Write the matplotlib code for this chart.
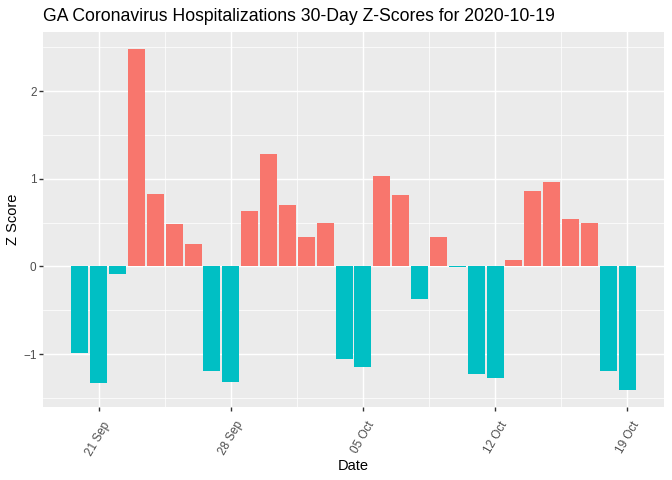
import matplotlib
matplotlib.use("Agg")
import matplotlib.pyplot as plt
import matplotlib.dates as mdates
import matplotlib.transforms as mtransforms
import numpy as np
import pandas as pd

plt.rcParams['font.family'] = ['Liberation Sans', 'DejaVu Sans']

# daily z-scores, 2020-09-20 .. 2020-10-19
dates = pd.date_range("2020-09-20", "2020-10-19", freq="D")
zscores = [-0.99, -1.33, -0.09, 2.48, 0.83, 0.48, 0.25, -1.19, -1.32, 0.63,
           1.28, 0.70, 0.33, 0.49, -1.06, -1.15, 1.03, 0.82, -0.37, 0.34,
           -0.01, -1.23, -1.27, 0.07, 0.86, 0.96, 0.54, 0.49, -1.19, -1.41]
tick_dates = pd.to_datetime(["2020-09-21", "2020-09-28", "2020-10-05",
                             "2020-10-12", "2020-10-19"])
y_ticks = [-1, 0, 1, 2]

pos_col = "#F8766D"
neg_col = "#00BFC4"

fig = plt.figure(figsize=(6.72, 4.8), dpi=100)
ax = fig.add_axes([43 / 672, 1 - 407 / 480, (664 - 43) / 672, (407 - 32) / 480])
ax.set_facecolor("#EBEBEB")

z = np.array(zscores)
cols = [pos_col if v > 0 else neg_col for v in z]
ax.bar(dates, z, width=0.9, color=cols, zorder=3)

# limits with ggplot-like 5% expansion
x0 = mdates.date2num(dates[0]) - 0.45
x1 = mdates.date2num(dates[-1]) + 0.45
pad = 0.05 * (x1 - x0)
ax.set_xlim(x0 - pad, x1 + pad)
ymin, ymax = z.min(), z.max()
ypad = 0.05 * (ymax - ymin)
ax.set_ylim(ymin - ypad, ymax + ypad)

ax.set_xticks(mdates.date2num(tick_dates))
ax.xaxis.set_major_formatter(mdates.DateFormatter("%d %b"))
minor_x = mdates.date2num(tick_dates[:-1]) + 3.5
ax.set_xticks(minor_x, minor=True)
ax.set_yticks(y_ticks)
ax.set_yticks([-1.5, -0.5, 0.5, 1.5, 2.5], minor=True)

ax.grid(which="major", color="white", linewidth=1.02, zorder=1)
ax.grid(which="minor", color="white", linewidth=0.51, zorder=1)
ax.set_axisbelow(True)

for s in ax.spines.values():
    s.set_visible(False)

ax.tick_params(which="major", length=2.6, width=1.0, color="#333333",
               labelcolor="#4D4D4D", labelsize=8.45, pad=2)
ax.tick_params(which="minor", length=0)
shift = mtransforms.ScaledTranslation(4 / 100, -6 / 100, fig.dpi_scale_trans)
for lbl in ax.get_xticklabels():
    lbl.set_rotation(60)
    lbl.set_ha("right")
    lbl.set_va("top")
    lbl.set_rotation_mode("anchor")
    lbl.set_transform(lbl.get_transform() + shift)

ax.set_xlabel("Date", fontsize=10.56, color="black", labelpad=1)
ax.set_ylabel("Z Score", fontsize=10.56, color="black", labelpad=2)
ax.set_title("GA Coronavirus Hospitalizations 30-Day Z-Scores for 2020-10-19",
             fontsize=12.67, color="black", loc="left", pad=8)

fig.savefig("out.png", dpi=100)
